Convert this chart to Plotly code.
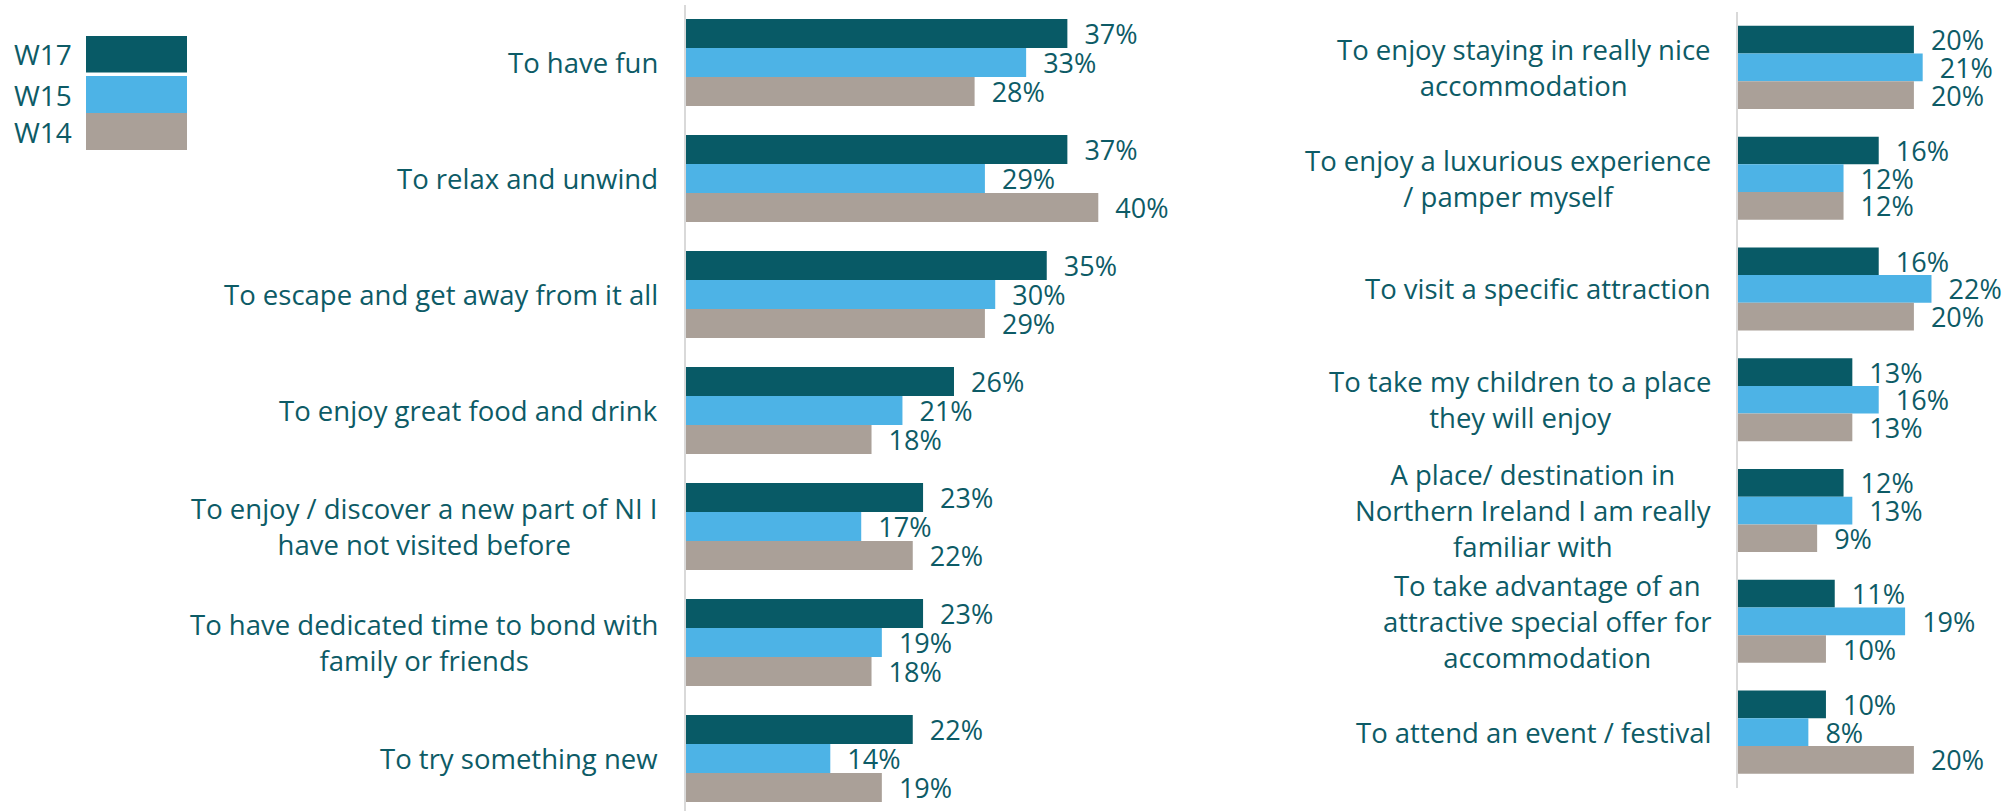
import plotly.graph_objects as go

# Reasons for taking a trip in Northern Ireland, by survey wave
series = ["W17", "W15", "W14"]
colors = {"W17": "#085A66", "W15": "#4DB3E6", "W14": "#AAA098"}

left_categories = [
    "To have fun",
    "To relax and unwind",
    "To escape and get away from it all",
    "To enjoy great food and drink",
    "To enjoy / discover a new part of NI I<br>have not visited before",
    "To have dedicated time to bond with<br>family or friends",
    "To try something new",
]
left_w17 = [37, 37, 35, 26, 23, 23, 22]
left_w15 = [33, 29, 30, 21, 17, 19, 14]
left_w14 = [28, 40, 29, 18, 22, 18, 19]

right_categories = [
    "To enjoy staying in really nice<br>accommodation",
    "To enjoy a luxurious experience<br>/ pamper myself",
    "To visit a specific attraction",
    "To take my children to a place<br>they will enjoy",
    "A place/ destination in<br>Northern Ireland I am really<br>familiar with",
    "To take advantage of an<br>attractive special offer for<br>accommodation",
    "To attend an event / festival",
]
right_w17 = [20, 16, 16, 13, 12, 11, 10]
right_w15 = [21, 12, 22, 16, 13, 19, 8]
right_w14 = [20, 12, 20, 13, 9, 10, 20]

W, H = 2008, 811
FONT = "Open Sans"
TEXT_COLOR = "#0D5B66"
CAT_FS = 27.5
VAL_FS = 27

left_values = {"W17": left_w17, "W15": left_w15, "W14": left_w14}
right_values = {"W17": right_w17, "W15": right_w15, "W14": right_w14}

fig = go.Figure()

for cats, vals, xa, ya in [
    (left_categories, left_values, "x", "y"),
    (right_categories, right_values, "x2", "y2"),
]:
    for s in series:
        fig.add_trace(go.Bar(
            y=cats, x=vals[s], orientation="h", name=s,
            marker=dict(color=colors[s], line=dict(width=0)),
            text=vals[s], texttemplate="\u00a0\u00a0%{x}%",
            textposition="outside", cliponaxis=False, constraintext="none",
            textfont=dict(family=FONT, size=VAL_FS, color=TEXT_COLOR),
            xaxis=xa, yaxis=ya, showlegend=False, hoverinfo="skip",
        ))


def px_x(p):
    return p / W


def px_y(p):
    return 1 - p / H


# Category labels: centred lines, block right-aligned against its axis and
# vertically centred on its bar group
annotations = []
for cats, yref, xpos in [(left_categories, "y", 660), (right_categories, "y2", 1713)]:
    for c in cats:
        annotations.append(dict(
            x=px_x(xpos), xref="paper", y=c, yref=yref,
            text=c, showarrow=False, xanchor="right", yanchor="middle",
            align="center", font=dict(family=FONT, size=CAT_FS, color=TEXT_COLOR),
        ))

# Legend block: stacked colour swatches with wave names
shapes = []
legend_rows = [("W17", 36, 72.5), ("W15", 76, 113), ("W14", 113, 150)]
for name, top, bottom in legend_rows:
    shapes.append(dict(
        type="rect", xref="paper", yref="paper",
        x0=px_x(86), x1=px_x(187), y0=px_y(bottom), y1=px_y(top),
        fillcolor=colors[name], line=dict(width=0), layer="above",
    ))
    annotations.append(dict(
        x=px_x(12), xref="paper", y=px_y((top + bottom) / 2), yref="paper",
        text=name, showarrow=False, xanchor="left", yanchor="middle",
        font=dict(family=FONT, size=28, color=TEXT_COLOR),
    ))

axis_common = dict(showgrid=False, zeroline=False, showticklabels=False, ticks="")

fig.update_layout(
    width=W, height=H,
    margin=dict(l=0, r=0, t=0, b=0),
    paper_bgcolor="white", plot_bgcolor="white",
    barmode="group", bargap=0.25, bargroupgap=0,
    font=dict(family=FONT, color=TEXT_COLOR),
    xaxis=dict(domain=[px_x(686), px_x(1290)], range=[0, 58.6], **axis_common),
    yaxis=dict(domain=[0, px_y(4.5)], range=[6.453, -0.5], anchor="x",
               categoryorder="array", categoryarray=left_categories,
               showline=True, linecolor="#D9D9D9", linewidth=2, **axis_common),
    xaxis2=dict(domain=[px_x(1738), 1.0], range=[0, 30.7], anchor="y2", **axis_common),
    yaxis2=dict(domain=[px_y(787.5), px_y(12)], range=[6.5, -0.5], anchor="x2",
                categoryorder="array", categoryarray=right_categories,
                showline=True, linecolor="#D9D9D9", linewidth=2, **axis_common),
    annotations=annotations,
    shapes=shapes,
)

fig.write_html("out.html")
